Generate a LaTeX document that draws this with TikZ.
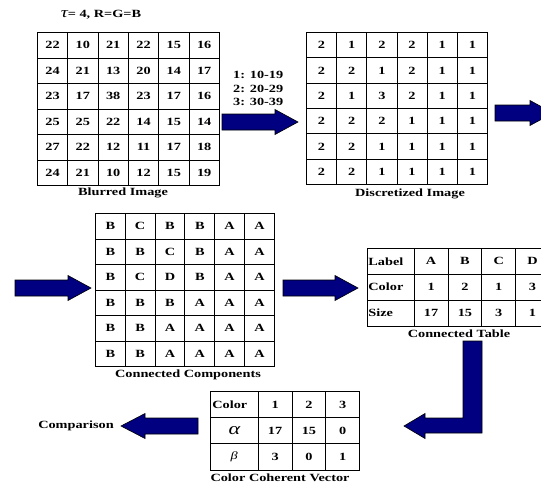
\documentclass[tikz,border=0pt]{standalone}
\usepackage{fontspec}
\setmainfont[FakeStretch=1.3]{Liberation Serif}
\usetikzlibrary{matrix}
\definecolor{navyfill}{RGB}{0,0,128}
\tikzset{
  lab/.style={font=\fontsize{11}{13}\selectfont\bfseries, inner sep=0pt},
  tbl/.style={matrix of nodes, anchor=north west, inner sep=0pt, outer sep=0pt,
    column sep=-0.8pt, row sep=-0.8pt,
    nodes={draw=black, line width=0.8pt, inner sep=0pt, anchor=center,
      font=\fontsize{11}{13}\selectfont\bfseries}},
  blockarrow/.style={draw=black, line width=0.6pt, fill=navyfill, line join=miter},
  grk/.style={font=\fontsize{#1}{#1}\selectfont\mdseries\itshape},
}
\newcommand\blockarr[4]{%
  \draw[blockarrow] (#1,#4-8) -- (#2,#4-8) -- (#2,#4-12.5) -- (#3,#4)
    -- (#2,#4+12.5) -- (#2,#4+8) -- (#1,#4+8) -- cycle;}
\begin{document}
\begin{tikzpicture}[x=1pt,y=-1pt]
\useasboundingbox (0,0) rectangle (541,485);

% title
\node[lab] (tau) at (101,15) {{\fontsize{15}{15}\selectfont\mdseries\itshape τ}= 4, R=G=B};

% blurred image
\matrix (blur) [tbl, nodes={minimum width=30.33pt, minimum height=25.5pt}] at (37,32) {
22 & 10 & 21 & 22 & 15 & 16 \\
24 & 21 & 13 & 20 & 14 & 17 \\
23 & 17 & 38 & 23 & 17 & 16 \\
25 & 25 & 22 & 14 & 15 & 14 \\
27 & 22 & 12 & 11 & 17 & 18 \\
24 & 21 & 10 & 12 & 15 & 19 \\
};
\node[lab] (blurlab) at (123,193) {Blurred Image};

% ranges
\node[lab, anchor=west] (r1) at (233,75) {1: 10-19};
\node[lab, anchor=west] (r2) at (233,89) {2: 20-29};
\node[lab, anchor=west] (r3) at (233,102) {3: 30-39};

% discretized
\matrix (disc) [tbl, nodes={minimum width=30.17pt, minimum height=25.33pt}] at (306,32) {
2 & 1 & 2 & 2 & 1 & 1 \\
2 & 2 & 1 & 2 & 1 & 1 \\
2 & 1 & 3 & 2 & 1 & 1 \\
2 & 2 & 2 & 1 & 1 & 1 \\
2 & 2 & 1 & 1 & 1 & 1 \\
2 & 2 & 1 & 1 & 1 & 1 \\
};
\node[lab] (disclab) at (410,194) {Discretized Image};

% connected components
\matrix (cc) [tbl, nodes={minimum width=29.83pt, minimum height=25.5pt}] at (95,213) {
B & C & B & B & A & A \\
B & B & C & B & A & A \\
B & C & D & B & A & A \\
B & B & B & A & A & A \\
B & B & A & A & A & A \\
B & B & A & A & A & A \\
};
\node[lab] (cclab) at (188,375) {Connected Components};

% connected table
\matrix (ct) [tbl, nodes={minimum width=33.8pt, minimum height=25.87pt},
  column 1/.style={nodes={text width=44.8pt, inner xsep=1pt, align=left}}] at (367,248) {
Label & A & B & C & D \\
Color & 1 & 2 & 1 & 3 \\
Size & 17 & 15 & 3 & 1 \\
};
\node[lab] (ctlab) at (459,334) {Connected Table};

% color coherent vector
\matrix (ccv) [tbl, nodes={minimum width=33.8pt, minimum height=26.2pt},
  column 1/.style={nodes={minimum width=47.8pt}}] at (210,391) {
\hbox to 44pt{Color\hfil} & 1 & 2 & 3 \\
|[grk=17]| α & 17 & 15 & 0 \\
|[grk=11]| β & 3 & 0 & 1 \\
};
\node[lab] (ccvlab) at (280,478) {Color Coherent Vector};

\node[lab] (cmp) at (76,426) {Comparison};

% block arrows
\blockarr{222}{275}{298}{122}
\blockarr{495}{530}{553}{113}
\blockarr{15}{68}{91}{288}
\blockarr{283}{335}{358}{288}
\blockarr{198}{145}{121}{426}
\draw[blockarrow] (404,426) -- (425,413.5) -- (425,418) -- (463,418) -- (463,341)
  -- (482,341) -- (482,433) -- (425,433) -- (425,438.5) -- cycle;
\end{tikzpicture}
\end{document}
